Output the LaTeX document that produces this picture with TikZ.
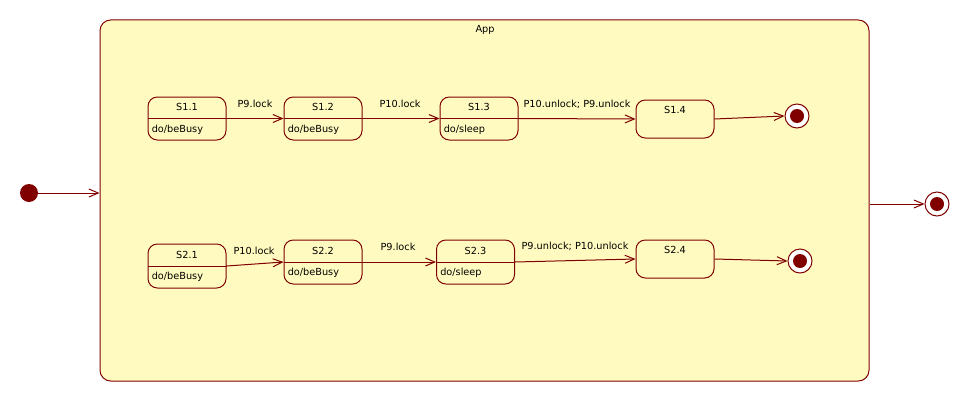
\documentclass[tikz,border=0pt]{standalone}
\usepackage{fontspec}
\setmainfont{DejaVu Sans}
\usetikzlibrary{arrows.meta}
\definecolor{umlred}{RGB}{128,0,0}
\definecolor{umlfill}{RGB}{255,251,192}
\tikzset{
  every node/.style={font=\fontsize{7.3}{8.5}\selectfont, inner sep=0pt},
  statebox/.style={draw=umlred, line width=0.75pt, rounded corners=7pt, fill=umlfill, minimum width=58.5pt},
  trans/.style={draw=umlred, line width=0.75pt, -{Straight Barb[length=7pt,width=6pt]}},
  lbl/.style={text=black},
  initst/.style={circle, fill=umlred, minimum size=13.5pt},
  finalst/.style={circle, draw=umlred, line width=0.75pt, fill=white, minimum size=18pt},
  finaldot/.style={circle, fill=umlred, minimum size=10.5pt},
}
\begin{document}
\begin{tikzpicture}[x=0.75pt,y=-0.75pt]
\useasboundingbox (0,0) rectangle (969,403);
% App composite state
\node[draw=umlred, line width=0.75pt, fill=umlfill, rounded corners=8pt, minimum width=576.75pt, minimum height=270.75pt] (app) at (484.5,200.5) {};
\node[lbl] (applbl) at (485,30) {App};
% initial
\node[initst] (init) at (29,193) {};
\draw[trans] (init.east) -- (init.east -| app.west);
% final outer
\node[finalst] (fin) at (937,204) {};
\node[finaldot] (findot) at (fin.center) {};
\draw[trans] (fin.west -| app.east) -- (fin.west);
% Row 1 states
\node[statebox, minimum height=32.25pt] (s11) at (187,118.5) {};
\node[statebox, minimum height=32.25pt] (s12) at (323,118.5) {};
\node[statebox, minimum height=32.25pt] (s13) at (479,118.5) {};
\node[statebox, minimum height=28.5pt] (s14) at (675,119) {};
\foreach \s/\t/\d in {s11/S1.1/do\slash beBusy, s12/S1.2/do\slash beBusy, s13/S1.3/do\slash sleep}{
  \draw[umlred, line width=0.75pt] (\s.west) -- (\s.east);
  \node[lbl] (\s t) at ([yshift=8.3pt]\s.center) {\t};
  \node[lbl, anchor=west] (\s d) at ([xshift=3pt,yshift=-8.2pt]\s.west) {\d};
}
\node[lbl] (s14t) at ([yshift=7pt]s14.center) {S1.4};
% Row 2 states
\node[statebox, minimum height=33pt] (s21) at (187,266) {};
\node[statebox, minimum height=33pt] (s22) at (323,262) {};
\node[statebox, minimum height=33pt] (s23) at (475.5,262) {};
\node[statebox, minimum height=28.5pt] (s24) at (675,259) {};
\foreach \s/\t/\d in {s21/S2.1/do\slash beBusy, s22/S2.2/do\slash beBusy, s23/S2.3/do\slash sleep}{
  \draw[umlred, line width=0.75pt] (\s.west) -- (\s.east);
  \node[lbl] (\s t) at ([yshift=8.3pt]\s.center) {\t};
  \node[lbl, anchor=west] (\s d) at ([xshift=3pt,yshift=-8.2pt]\s.west) {\d};
}
\node[lbl] (s24t) at ([yshift=7pt]s24.center) {S2.4};
% finals inside
\node[finalst] (f1) at (797,116) {};
\node[finaldot] (f1d) at (f1.center) {};
\node[finalst] (f2) at (800,261) {};
\node[finaldot] (f2d) at (f2.center) {};
% transitions row 1
\draw[trans] (s11.east) -- (s12.west);
\draw[trans] (s12.east) -- (s13.west);
\draw[trans] (s13.east) -- (s14.west);
\draw[trans] (s14.east) -- (f1.west);
\node[lbl] (l1) at (255,104) {P9.lock};
\node[lbl] (l2) at (400,104) {P10.lock};
\node[lbl] (l3) at (577,104) {P10.unlock; P9.unlock};
% transitions row 2
\draw[trans] (s21.east) -- (s22.west);
\draw[trans] (s22.east) -- (s23.west);
\draw[trans] (s23.east) -- (s24.west);
\draw[trans] (s24.east) -- (f2.west);
\node[lbl] (l4) at (254,251) {P10.lock};
\node[lbl] (l5) at (398,247) {P9.lock};
\node[lbl] (l6) at (575,246) {P9.unlock; P10.unlock};
\end{tikzpicture}
\end{document}
